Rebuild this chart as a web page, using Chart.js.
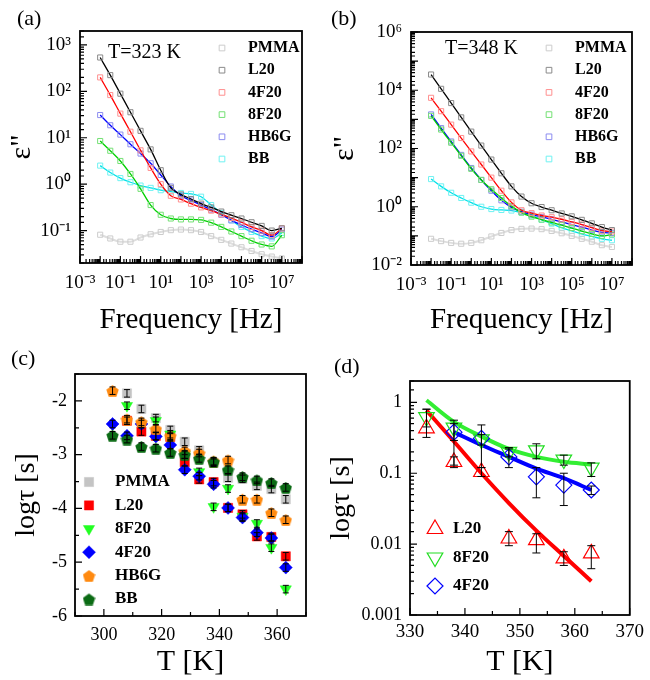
<!DOCTYPE html>
<html>
<head>
<meta charset="utf-8">
<script src="https://cdn.jsdelivr.net/npm/chart.js@4.4.1/dist/chart.umd.min.js"></script>
<style>
  body { margin: 0; background: #fff; width: 650px; height: 680px; position: relative; overflow: hidden; }
  canvas { position: absolute; }
  .tag { position: absolute; font: 22px "Liberation Serif", serif; line-height: 1; color: #000; }
</style>
</head>
<body>
<canvas id="pa" width="325" height="345" style="left:0;top:0"></canvas>
<canvas id="pb" width="325" height="345" style="left:325px;top:0"></canvas>
<canvas id="pc" width="325" height="340" style="left:0;top:340px"></canvas>
<canvas id="pd" width="325" height="340" style="left:325px;top:340px"></canvas>
<div class="tag" style="left:17px;top:7px">(a)</div>
<div class="tag" style="left:331px;top:7px">(b)</div>
<div class="tag" style="left:11px;top:347px">(c)</div>
<div class="tag" style="left:334px;top:355px">(d)</div>
<script>
// frequencies (Hz) where the curves were read, half-decade steps
const freq = [0.01, 0.0316, 0.1, 0.316, 1, 3.16, 10, 31.6, 100, 316, 1000, 3160, 1e4, 3.16e4, 1e5, 3.16e5, 1e6, 3.16e6, 1e7];
const freqTickExp = [-3, -1, 1, 3, 5, 7];

// (a) eps'' at T = 323 K
const a_PMMA = [0.0813, 0.0676, 0.0575, 0.0575, 0.0708, 0.0832, 0.0933, 0.102, 0.105, 0.102, 0.0933, 0.0759, 0.0631, 0.0525, 0.0437, 0.0363, 0.0309, 0.0275, 0.0251];
const a_L20  = [537, 224, 89.1, 35.5, 14.1, 5.62, 2.0, 0.832, 0.603, 0.479, 0.380, 0.316, 0.257, 0.214, 0.182, 0.151, 0.126, 0.1, 0.112];
const a_4F20 = [200, 83.2, 33.1, 13.5, 5.37, 2.24, 1.0, 0.562, 0.468, 0.380, 0.316, 0.269, 0.224, 0.186, 0.151, 0.120, 0.1, 0.0794, 0.112];
const a_8F20 = [8.51, 5.25, 3.16, 1.66, 0.794, 0.355, 0.219, 0.182, 0.174, 0.174, 0.170, 0.148, 0.120, 0.0955, 0.0759, 0.0603, 0.0501, 0.0457, 0.0794];
const a_HB6G = [30.9, 18.6, 11.7, 7.24, 4.57, 2.82, 1.58, 0.891, 0.562, 0.447, 0.355, 0.282, 0.219, 0.166, 0.132, 0.107, 0.0891, 0.0741, 0.105];
const a_BB   = [2.51, 1.78, 1.35, 1.10, 0.933, 0.832, 0.741, 0.692, 0.646, 0.617, 0.537, 0.355, 0.240, 0.166, 0.120, 0.0933, 0.0759, 0.0676, 0.0891];
const a_yTickExp = [-1, 0, 1, 2, 3];

// (b) eps'' at T = 348 K
const b_PMMA = [0.0794, 0.0661, 0.0575, 0.0537, 0.0575, 0.0708, 0.0955, 0.126, 0.158, 0.174, 0.178, 0.170, 0.148, 0.123, 0.1, 0.0794, 0.0631, 0.0479, 0.0417];
const b_L20  = [34700, 11200, 3630, 1170, 380, 126, 41.7, 14.1, 5.01, 2.24, 1.32, 0.977, 0.759, 0.589, 0.468, 0.355, 0.269, 0.2, 0.158];
const b_4F20 = [5500, 1910, 661, 229, 79.4, 28.2, 10, 3.55, 1.41, 0.759, 0.603, 0.501, 0.437, 0.372, 0.302, 0.245, 0.191, 0.151, 0.141];
const b_8F20 = [1320, 447, 158, 56.2, 20.0, 8.32, 3.98, 2.0, 1.05, 0.631, 0.457, 0.363, 0.288, 0.234, 0.186, 0.145, 0.117, 0.1, 0.112];
const b_HB6G = [1480, 501, 174, 60.3, 21.4, 8.32, 3.55, 1.66, 0.955, 0.676, 0.537, 0.447, 0.372, 0.302, 0.245, 0.2, 0.158, 0.132, 0.126];
const b_BB   = [8.91, 5.01, 3.02, 2.0, 1.38, 1.0, 0.832, 0.776, 0.741, 0.631, 0.501, 0.355, 0.263, 0.191, 0.148, 0.117, 0.0955, 0.0794, 0.0708];
const b_yTickExp = [-2, 0, 2, 4, 6];

// (c) log tau [s] vs T [K]
const T_c = [303, 308, 313, 318, 323, 328, 333, 338, 343, 348, 353, 358, 363];
const c_PMMA = [null, -1.86, -2.15, -2.32, -2.54, -2.76, -2.92, -3.15, -3.43, -3.45, -3.58, -3.64, -3.83];
const c_L20  = [null, -2.37, -2.57, -2.65, -2.67, -3.14, -3.46, -3.51, -3.99, -4.11, -4.52, -4.53, -4.89];
const c_8F20 = [null, -2.09, null, -2.37, -2.62, -3.0, -3.32, -3.97, -3.63, -4.15, -4.28, -4.73, -5.50];
const c_4F20 = [-2.43, -2.65, -2.43, -2.66, -2.82, -3.28, -3.40, -3.55, -3.99, -4.17, -4.45, -4.55, -5.10];
const c_HB6G = [-1.81, -2.34, -2.39, -2.52, -2.65, -2.93, -2.97, -3.12, -3.10, -3.83, -3.83, -4.08, -4.21];
const c_BB   = [-2.64, -2.71, -2.85, -2.88, -2.96, -3.0, -3.07, -3.13, -3.28, -3.41, -3.47, -3.52, -3.61];
const c_err = 0.07;

// (d) tau [s] vs T [K], with error bars and fits
const T_d = [333, 338, 343, 348, 353, 358, 363];
const d_L20     = [0.43, 0.144, 0.104, 0.012, 0.0114, 0.0063, 0.0074];
const d_L20_lo  = [0.32, 0.12, 0.09, 0.0095, 0.0075, 0.005, 0.0045];
const d_L20_hi  = [0.8, 0.17, 0.12, 0.015, 0.014, 0.0078, 0.0095];
const d_8F20    = [0.62, 0.44, 0.30, 0.20, 0.21, 0.156, 0.12];
const d_8F20_lo = [0.45, 0.29, 0.25, 0.17, 0.16, 0.13, 0.09];
const d_8F20_hi = [0.8, 0.56, 0.35, 0.23, 0.26, 0.18, 0.14];
const d_4F20    = [null, 0.38, 0.31, 0.17, 0.089, 0.068, 0.058];
const d_4F20_lo = [null, 0.13, 0.12, 0.12, 0.045, 0.035, 0.05];
const d_4F20_hi = [null, 0.5, 0.48, 0.22, 0.12, 0.1, 0.066];
const fit_L20  = [0.77, 0.28, 0.1, 0.038, 0.0155, 0.0068, 0.003];
const fit_8F20 = [1.07, 0.53, 0.33, 0.22, 0.17, 0.145, 0.133];
const fit_4F20 = [null, 0.38, 0.25, 0.17, 0.116, 0.085, 0.058];
const d_yTicks = [0.001, 0.01, 0.1, 1];

Chart.defaults.font.family = '"Liberation Serif", "Times New Roman", serif';
Chart.defaults.color = '#000';

const SUP = {'-': '\u207B', '0': '\u2070', '1': '\u00B9', '2': '\u00B2', '3': '\u00B3', '4': '\u2074', '5': '\u2075', '6': '\u2076', '7': '\u2077', '8': '\u2078', '9': '\u2079'};
const sup = n => String(n).split('').map(c => SUP[c]).join('');
function powLabel(list) {
  return v => {
    const e = Math.log10(v), r = Math.round(e);
    if (Math.abs(e - r) > 1e-6 || !list.includes(r)) return '';
    return '10' + sup(r);
  };
}
const zip = (xs, ys) => xs.map((x, i) => ({x: x, y: ys[i]}));

function pentagon(size, color) {
  const c = document.createElement('canvas');
  c.width = c.height = size;
  const g = c.getContext('2d'), r = size / 2;
  g.fillStyle = color;
  g.beginPath();
  for (let k = 0; k < 5; k++) {
    const t = -Math.PI / 2 + k * 2 * Math.PI / 5;
    g.lineTo(r + r * Math.cos(t), r + 1 + r * Math.sin(t));
  }
  g.closePath();
  g.fill();
  return c;
}

// frame box and inward ticks
const frame = {
  id: 'frame',
  afterDraw(chart, args, o) {
    const {ctx, chartArea: a, scales} = chart;
    ctx.save();
    ctx.strokeStyle = '#000';
    ctx.lineWidth = 1.2;
    ctx.beginPath();
    [scales.x, scales.y].forEach(s => {
      s.ticks.forEach(t => {
        const p = s.getPixelForValue(t.value);
        let major;
        if (s.type === 'logarithmic') {
          const e = Math.log10(t.value);
          major = Math.abs(e - Math.round(e)) < 1e-6;
        } else {
          major = t.label !== '';
        }
        const len = major ? 7 : 4;
        if (s.axis === 'x') {
          if (p < a.left - 0.5 || p > a.right + 0.5) return;
          ctx.moveTo(p, a.bottom); ctx.lineTo(p, a.bottom - len);
        } else {
          if (p < a.top - 0.5 || p > a.bottom + 0.5) return;
          ctx.moveTo(a.left, p); ctx.lineTo(a.left + len, p);
        }
      });
    });
    ctx.stroke();
    ctx.lineWidth = 1.8;
    ctx.strokeRect(a.left, a.top, a.right - a.left, a.bottom - a.top);
    ctx.restore();
  }
};

// error bars from dataset.errLo / errHi, or a constant dataset.errC
const errBars = {
  id: 'errBars',
  afterDatasetsDraw(chart) {
    const {ctx, scales} = chart;
    ctx.save();
    ctx.strokeStyle = '#000';
    ctx.lineWidth = 1;
    chart.data.datasets.forEach(ds => {
      if (!ds.errLo && ds.errC === undefined) return;
      ds.data.forEach((pt, i) => {
        if (pt.y === null) return;
        const lo = ds.errLo ? ds.errLo[i] : pt.y - ds.errC;
        const hi = ds.errHi ? ds.errHi[i] : pt.y + ds.errC;
        if (lo === null) return;
        const x = scales.x.getPixelForValue(pt.x);
        const y1 = scales.y.getPixelForValue(lo), y2 = scales.y.getPixelForValue(hi);
        const w = ds.capW || 3;
        ctx.beginPath();
        ctx.moveTo(x, y1); ctx.lineTo(x, y2);
        ctx.moveTo(x - w, y1); ctx.lineTo(x + w, y1);
        ctx.moveTo(x - w, y2); ctx.lineTo(x + w, y2);
        ctx.stroke();
      });
    });
    ctx.restore();
  }
};

// legend inside the plot, and free text notes
const inLegend = {
  id: 'inLegend',
  afterDraw(chart, args, o) {
    const ctx = chart.ctx;
    ctx.save();
    (o.notes || []).forEach(n => {
      ctx.font = n.font; ctx.fillStyle = '#000'; ctx.textBaseline = 'middle';
      ctx.fillText(n.text, n.x, n.y);
    });
    (o.items || []).forEach((idx, i) => {
      const ds = chart.data.datasets[idx];
      const y = o.y + i * o.dy;
      ctx.fillStyle = ds.pointBackgroundColor || 'rgba(0,0,0,0)';
      ctx.strokeStyle = ds.pointBorderColor || ds.borderColor;
      ctx.lineWidth = ds.pointBorderWidth || 1;
      Chart.helpers.drawPoint(ctx, {
        pointStyle: ds.pointStyle, radius: ds.legendR || ds.pointRadius,
        rotation: ds.pointRotation || 0, borderWidth: ds.pointBorderWidth || 1
      }, o.x, y);
      ctx.fillStyle = '#000';
      ctx.font = o.font;
      ctx.textBaseline = 'middle';
      ctx.fillText(ds.label, o.tx, y);
    });
    ctx.restore();
  }
};

function specLine(label, vals, sq, line, lw) {
  return {
    label: label, data: zip(freq, vals), showLine: true,
    borderColor: line, borderWidth: lw, cubicInterpolationMode: 'monotone',
    pointStyle: 'rect', pointRadius: 3.6, pointBorderColor: sq,
    pointBackgroundColor: 'rgba(0,0,0,0)', pointBorderWidth: 1, legendR: 4
  };
}

function spectrum(id, sets, yMin, yMax, yExp, left, right, top, bottom, note) {
  return new Chart(document.getElementById(id), {
    type: 'scatter',
    data: {datasets: [
      specLine('PMMA', sets[0], '#cccccc', '#dedede', 2),
      specLine('L20', sets[1], '#8a8a8a', '#000000', 1.3),
      specLine('4F20', sets[2], '#ff8f8f', '#ff0000', 1.3),
      specLine('8F20', sets[3], '#74e074', '#00d000', 1.3),
      specLine('HB6G', sets[4], '#8c8cf0', '#0000ff', 1.3),
      specLine('BB', sets[5], '#6ff2f2', '#00e0e8', 1.3)
    ]},
    options: {
      responsive: false, animation: false,
      layout: {padding: {left: 0, top: top, right: 325 - right, bottom: 0}},
      plugins: {
        legend: {display: false}, tooltip: {enabled: false},
        inLegend: {items: [0, 1, 2, 3, 4, 5], x: note.lx, tx: note.lx + 26, y: 48, dy: 22.2,
                   font: 'bold 16px "Liberation Serif", serif',
                   notes: [{text: note.text, x: note.x, y: note.y, font: '20px "Liberation Serif", serif'}]}
      },
      scales: {
        x: {
          type: 'logarithmic', min: 1e-3, max: 1e8,
          grid: {drawOnChartArea: false, drawTicks: false}, border: {display: false},
          ticks: {autoSkip: false, maxRotation: 0, padding: 9, font: {size: 19}, callback: powLabel(freqTickExp)},
          title: {display: true, text: 'Frequency [Hz]', font: {size: 29}, padding: {top: 0, bottom: 7}},
          afterFit: s => { s.height = 345 - bottom; }
        },
        y: {
          type: 'logarithmic', min: yMin, max: yMax,
          grid: {drawOnChartArea: false, drawTicks: false}, border: {display: false},
          ticks: {autoSkip: false, padding: 9, font: {size: 19}, callback: powLabel(yExp)},
          title: {display: true, text: 'ε"', font: {size: 30}, padding: {top: note.tp, bottom: 0}},
          afterFit: s => { s.width = left; }
        }
      }
    },
    plugins: [frame, inLegend]
  });
}

spectrum('pa', [a_PMMA, a_L20, a_4F20, a_8F20, a_HB6G, a_BB], 0.02, 2000, a_yTickExp, 80, 302, 31, 263,
  {text: 'T=323 K', x: 108, y: 53, lx: 222, tp: 4});
spectrum('pb', [b_PMMA, b_L20, b_4F20, b_8F20, b_HB6G, b_BB], 0.01, 1e6, b_yTickExp, 86, 307, 32, 265,
  {text: 'T=348 K', x: 120, y: 49, lx: 224, tp: 2});

// (c)
function tauSet(label, vals, style, color, r, rot, order) {
  return {
    label: label, data: zip(T_c, vals), pointStyle: style, pointRadius: r, pointRotation: rot,
    pointBackgroundColor: color, pointBorderColor: color, pointBorderWidth: 0.5,
    errC: c_err, capW: 3, order: order
  };
}
new Chart(document.getElementById('pc'), {
  type: 'scatter',
  data: {datasets: [
    tauSet('PMMA', c_PMMA, 'rect', '#c4c4c4', 6.5, 0, 6),
    tauSet('L20', c_L20, 'rect', '#ff0000', 6.5, 0, 5),
    tauSet('8F20', c_8F20, 'triangle', '#22ff22', 6.5, 180, 4),
    tauSet('4F20', c_4F20, 'rectRot', '#0000ff', 6.5, 0, 3),
    tauSet('HB6G', c_HB6G, pentagon(13, '#ff8a10'), '#ff8a10', 6, 0, 2),
    tauSet('BB', c_BB, pentagon(13, '#0b6b14'), '#0b6b14', 6, 0, 1)
  ]},
  options: {
    responsive: false, animation: false,
    layout: {padding: {left: 0, top: 34, right: 19, bottom: 0}},
    plugins: {
      legend: {display: false}, tooltip: {enabled: false},
      inLegend: {items: [0, 1, 2, 3, 4, 5], x: 89, tx: 115, y: 142, dy: 23.4, font: 'bold 17px "Liberation Serif", serif'}
    },
    scales: {
      x: {
        type: 'linear', min: 290, max: 370,
        grid: {drawOnChartArea: false, drawTicks: false}, border: {display: false},
        ticks: {stepSize: 10, autoSkip: false, maxRotation: 0, padding: 8, font: {size: 18},
                callback: v => (v % 20 === 0 ? String(v) : '')},
        title: {display: true, text: 'T [K]', font: {size: 30}, padding: 0},
        afterFit: s => { s.height = 64; }
      },
      y: {
        type: 'linear', min: -6, max: -1.5,
        grid: {drawOnChartArea: false, drawTicks: false}, border: {display: false},
        ticks: {stepSize: 0.5, autoSkip: false, padding: 8, font: {size: 18},
                callback: v => (Number.isInteger(v) ? String(v) : '')},
        title: {display: true, text: 'logτ [s]', font: {size: 28}, padding: {top: 10, bottom: 0}},
        afterFit: s => { s.width = 75; }
      }
    }
  },
  plugins: [frame, errBars, inLegend]
});

// (d)
function fitLine(vals, color) {
  return {label: 'fit', data: zip(T_d, vals), showLine: true, pointRadius: 0,
          borderColor: color, borderWidth: 4, cubicInterpolationMode: 'monotone'};
}
function tauPts(label, vals, lo, hi, style, color, r, rot) {
  return {label: label, data: zip(T_d, vals), pointStyle: style, pointRadius: r, pointRotation: rot,
          pointBackgroundColor: 'rgba(0,0,0,0)', pointBorderColor: color, pointBorderWidth: 1.2,
          errLo: lo, errHi: hi, capW: 4};
}
new Chart(document.getElementById('pd'), {
  type: 'scatter',
  data: {datasets: [
    tauPts('L20', d_L20, d_L20_lo, d_L20_hi, 'triangle', '#ff0000', 9, 0),
    tauPts('8F20', d_8F20, d_8F20_lo, d_8F20_hi, 'triangle', '#22dd22', 9, 180),
    tauPts('4F20', d_4F20, d_4F20_lo, d_4F20_hi, 'rectRot', '#0000ff', 8, 0),
    fitLine(fit_L20, '#ff0000'),
    fitLine(fit_8F20, '#33ee33'),
    fitLine(fit_4F20, '#0000ff')
  ]},
  options: {
    responsive: false, animation: false,
    layout: {padding: {left: 0, top: 41, right: 18, bottom: 0}},
    plugins: {
      legend: {display: false}, tooltip: {enabled: false},
      inLegend: {items: [0, 1, 2], x: 110, tx: 128, y: 189, dy: 28.5, font: 'bold 17px "Liberation Serif", serif'}
    },
    scales: {
      x: {
        type: 'linear', min: 330, max: 370,
        grid: {drawOnChartArea: false, drawTicks: false}, border: {display: false},
        ticks: {stepSize: 5, autoSkip: false, maxRotation: 0, padding: 6, font: {size: 19},
                callback: v => (v % 10 === 0 ? String(v) : '')},
        title: {display: true, text: 'T [K]', font: {size: 30}, padding: 0},
        afterFit: s => { s.height = 65; }
      },
      y: {
        type: 'logarithmic', min: 0.001, max: 2,
        grid: {drawOnChartArea: false, drawTicks: false}, border: {display: false},
        ticks: {autoSkip: false, padding: 8, font: {size: 18},
                callback: v => (d_yTicks.some(t => Math.abs(t - v) < t * 1e-6) ? String(v) : '')},
        title: {display: true, text: 'logτ [s]', font: {size: 28}, padding: 0},
        afterFit: s => { s.width = 85; }
      }
    }
  },
  plugins: [frame, errBars, inLegend]
});
</script>
</body>
</html>
